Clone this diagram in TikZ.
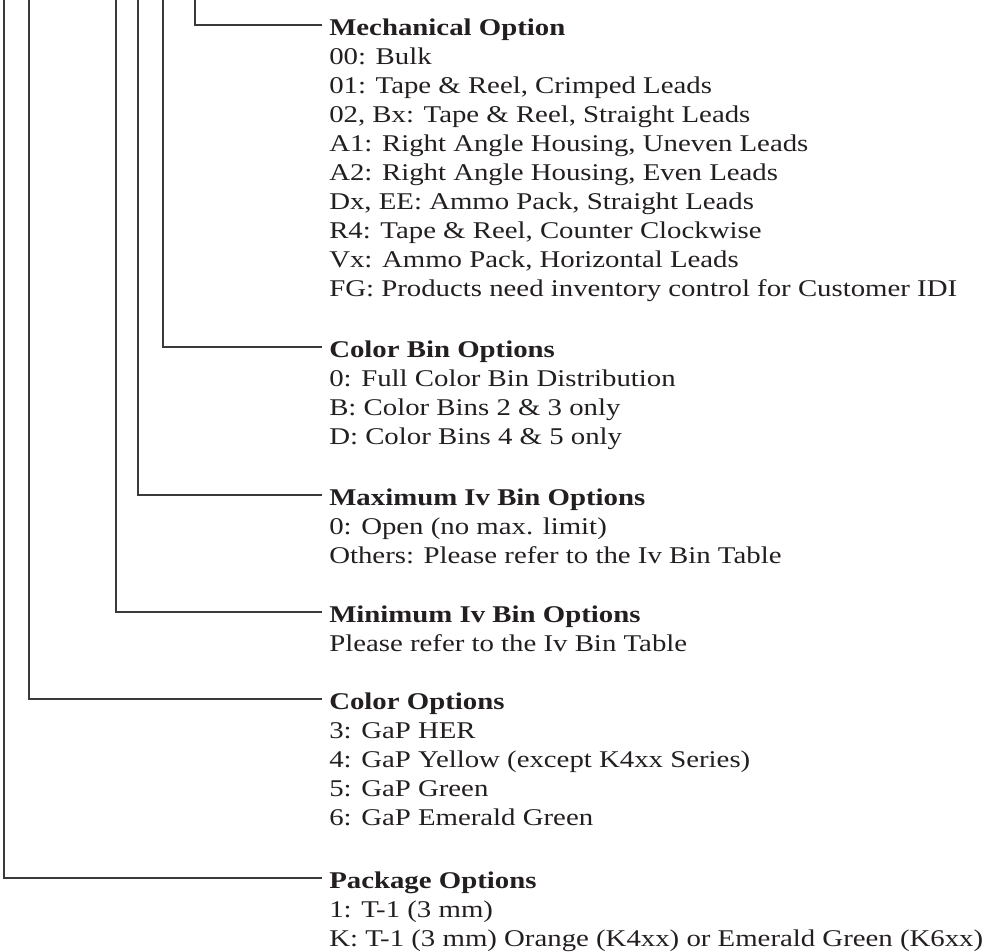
\documentclass[tikz,border=0pt]{standalone}
\usepackage{fontspec}
\setmainfont{Liberation Serif}[FakeStretch=1.2]
\usetikzlibrary{positioning}
\definecolor{ink9}{HTML}{231F20}
\definecolor{wire9}{HTML}{3A3A3A}

\begin{document}
\begin{tikzpicture}[x=0.75pt,y=-0.75pt,
  head/.style={anchor=west,inner xsep=5.25pt,inner ysep=0pt,text height=15pt,text depth=0pt,
    font=\fontsize{18}{21.75}\selectfont\bfseries,text=ink9},
  opts/.style={below=6.5pt of #1.south west,anchor=north west,inner xsep=5.25pt,inner ysep=0pt,
    align=left,font=\fontsize{18}{21.75}\selectfont,text=ink9},
  wire/.style={wire9,line width=0.8pt}]
\useasboundingbox (0,0) rectangle (997,951);

% headings
\node [head] (mech) at (322,25) {Mechanical Option};
\node [head] (cbin) at (322,347) {Color Bin Options};
\node [head] (maxiv) at (322,495) {Maximum Iv Bin Options};
\node [head] (miniv) at (322,612) {Minimum Iv Bin Options};
\node [head] (color) at (322,699) {Color Options};
\node [head] (pkg) at (322,878) {Package Options};

% option lists
\node [opts=mech] (mechl) {\strut 00: Bulk\\01: Tape \& Reel, Crimped Leads\\02, Bx: Tape \& Reel, Straight Leads\\
  A1: Right Angle Housing, Uneven Leads\\A2: Right Angle Housing, Even Leads\\Dx, EE: Ammo Pack, Straight Leads\\
  R4: Tape \& Reel, Counter Clockwise\\Vx: Ammo Pack, Horizontal Leads\\FG: Products need inventory control for Customer IDI};
\node [opts=cbin] (cbinl) {\strut 0: Full Color Bin Distribution\\B: Color Bins 2 \& 3 only\\D: Color Bins 4 \& 5 only};
\node [opts=maxiv] (maxivl) {\strut 0: Open (no max. limit)\\Others: Please refer to the Iv Bin Table};
\node [opts=miniv] (minivl) {\strut Please refer to the Iv Bin Table};
\node [opts=color] (colorl) {\strut 3: GaP HER\\4: GaP Yellow (except K4xx Series)\\5: GaP Green\\6: GaP Emerald Green};
\node [opts=pkg] (pkgl) {\strut 1: T-1 (3 mm)\\K: T-1 (3 mm) Orange (K4xx) or Emerald Green (K6xx)};

% leader lines from the part number
\coordinate (t1) at (195,0);
\coordinate (t2) at (163,0);
\coordinate (t3) at (138,0);
\coordinate (t4) at (116,0);
\coordinate (t5) at (29,0);
\coordinate (t6) at (4,0);
\draw [wire] (t1) |- (mech.west);
\draw [wire] (t2) |- (cbin.west);
\draw [wire] (t3) |- (maxiv.west);
\draw [wire] (t4) |- (miniv.west);
\draw [wire] (t5) |- (color.west);
\draw [wire] (t6) |- (pkg.west);
\end{tikzpicture}
\end{document}
